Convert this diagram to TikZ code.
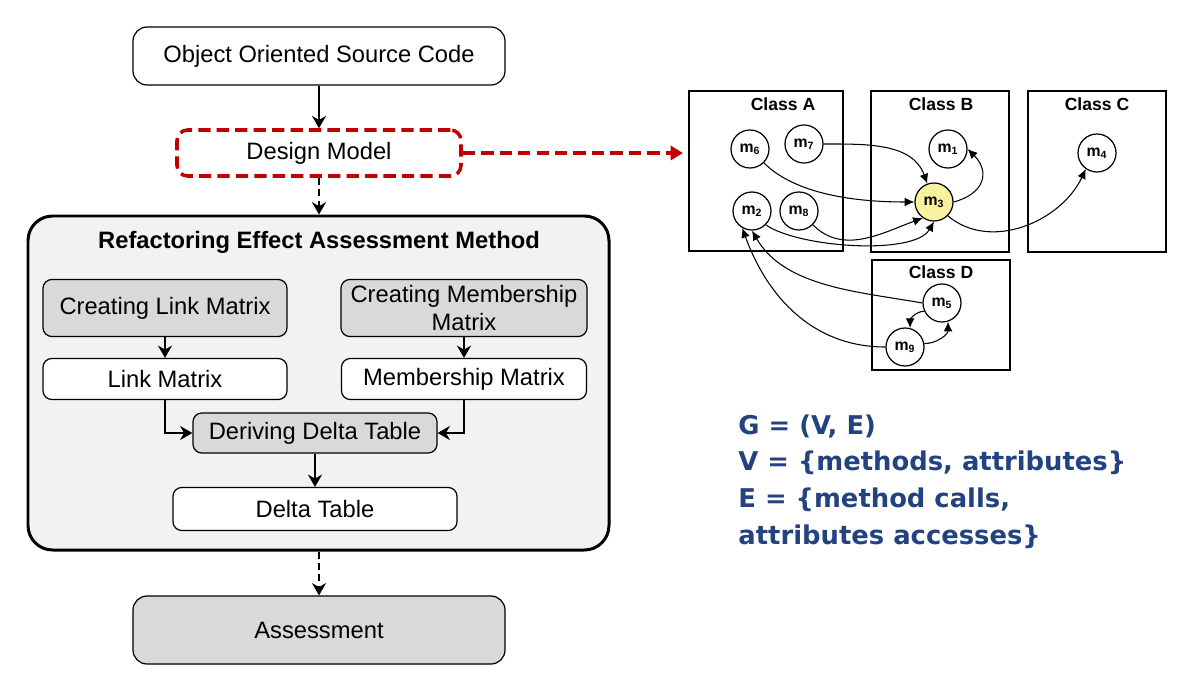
\documentclass[tikz,border=0pt]{standalone}
\usepackage{fontspec}
\setmainfont{Liberation Sans}
\newfontfamily\handfont{DejaVu Sans}
\usetikzlibrary{arrows.meta}
\usetikzlibrary{positioning}
\definecolor{boxgray}{RGB}{217,217,217}
\definecolor{panelgray}{RGB}{242,242,242}
\definecolor{modelred}{RGB}{192,0,0}
\definecolor{hotyellow}{RGB}{246,242,160}
\definecolor{graphblue}{RGB}{34,66,128}

\begin{document}
\begin{tikzpicture}[>={Stealth[length=7pt,width=8pt]},line width=1.6pt,
font=\fontsize{13.5}{16}\selectfont]
\tikzstyle{flow}=[draw,line width=0.7pt,rounded corners=5pt,inner sep=2pt,align=center]
\tikzstyle{proc}=[flow,fill=boxgray,minimum width=4.88cm,minimum height=1.14cm]
\tikzstyle{store}=[flow,fill=white,minimum height=0.82cm]
\tikzstyle{cls}=[draw,line width=0.9pt,minimum width=2.76cm,minimum height=3.22cm]
\tikzstyle{ctitle}=[font=\fontsize{10}{12}\selectfont\bfseries]
\tikzstyle{meth}=[circle,draw,line width=0.7pt,fill=white,minimum size=0.76cm,inner sep=0pt,font=\fontsize{9}{10}\selectfont\bfseries]
\tikzstyle{calledge}=[->,>={Latex[length=5.5pt,width=5pt]},line width=0.6pt]

\useasboundingbox (0,0) rectangle (23.9,-13.48);

% left column
\node[flow,minimum width=7.44cm,minimum height=1.16cm,rounded corners=8pt] (src) at (6.38,-1.12) {Object Oriented Source Code};
\node[flow,draw=modelred,line width=2pt,dash pattern=on 7pt off 3.5pt,minimum width=5.68cm,minimum height=0.92cm,rounded corners=6pt] (dm) at (6.38,-3.06) {Design Model};
\node[draw,line width=1.7pt,fill=panelgray,rounded corners=14pt,minimum width=11.62cm,minimum height=6.68cm] (rea) at (6.37,-7.66) {};
\node[font=\fontsize{13.5}{16}\selectfont\bfseries] (title) at (6.38,-4.84) {Refactoring Effect Assessment Method};
\node[proc] (clm) at (3.3,-6.16) {Creating Link Matrix};
\node[proc,minimum width=4.92cm] (cmm) at (9.28,-6.16) {Creating Membership\\Matrix};
\node[store,minimum width=4.88cm] (lm) at (3.3,-7.58) {Link Matrix};
\node[store,minimum width=4.9cm] (mm) at (9.28,-7.58) {Membership Matrix};
\node[proc,minimum height=0.8cm] (ddt) at (6.3,-8.66) {Deriving Delta Table};
\node[store,minimum width=5.68cm,minimum height=0.86cm] (dt) at (6.3,-10.18) {Delta Table};
\node[flow,fill=boxgray,minimum width=7.44cm,minimum height=1.36cm,rounded corners=8pt] (asm) at (6.38,-12.6) {Assessment};

\draw[->] (src) -- (dm);
\draw[->,line width=1.3pt,dash pattern=on 4pt off 2.5pt] (dm.south) -- (dm.south |- rea.north);
\draw[->] (clm) -- (lm);
\draw[->] (cmm) -- (mm);
\draw[->] (lm.south) |- (ddt.west);
\draw[->] (mm.south) |- (ddt.east);
\draw[->] (ddt) -- (dt);
\draw[->,line width=1.3pt,dash pattern=on 4pt off 2.5pt] (rea.south -| asm.north) -- (asm.north);

% class graph
\node[cls,minimum width=3.08cm,minimum height=3.2cm] (ca) at (15.32,-3.42) {};
\node[cls] (cb) at (18.8,-3.43) {};
\node[cls] (cc) at (21.94,-3.43) {};
\node[cls,minimum height=2.2cm] (cd) at (18.82,-6.3) {};
\node[ctitle] (ta) at (15.66,-2.08) {Class A};
\node[ctitle] (tb) at (18.82,-2.08) {Class B};
\node[ctitle] (tc) at (21.94,-2.08) {Class C};
\node[ctitle] (td) at (18.82,-5.44) {Class D};

\draw[->,draw=modelred,line width=2pt,dash pattern=on 7pt off 3.5pt,>={Triangle[length=7pt,width=8pt]},shorten >=3pt]
  (dm.east) -- (dm.east -| ca.west);

\node[meth] (m6) at (15.0,-2.98) {m\textsubscript{6}};
\node[meth] (m7) at (16.08,-2.88) {m\textsubscript{7}};
\node[meth] (m2) at (15.04,-4.22) {m\textsubscript{2}};
\node[meth] (m8) at (15.98,-4.22) {m\textsubscript{8}};
\node[meth] (m1) at (18.96,-2.98) {m\textsubscript{1}};
\node[meth,fill=hotyellow] (m3) at (18.68,-4.04) {m\textsubscript{3}};
\node[meth] (m4) at (21.94,-3.06) {m\textsubscript{4}};
\node[meth] (m5) at (18.84,-6.06) {m\textsubscript{5}};
\node[meth] (m9) at (18.1,-6.94) {m\textsubscript{9}};

\draw[calledge] (m7) to[out=0,in=110] (m3);
\draw[calledge] (m6) to[out=-45,in=180,looseness=0.8] (m3);
\draw[calledge] (m8.-45) to[out=-45,in=-160] (m3.-125);
\draw[calledge] (m2.-45) to[out=-35,in=-120,looseness=0.6] (m3.-90);
\draw[calledge] (m3.east) to[out=15,in=-45,looseness=1.5] (m1.east);
\draw[calledge] (m3.-45) to[out=-40,in=-115] (m4.-125);
\draw[calledge] (m5.west) to[out=170,in=-60,looseness=0.9] (m2.-90);
\draw[calledge] (m9.west) to[out=180,in=-70] (m2.-120);
\draw[calledge] (m5.205) to[out=180,in=90] (m9.75);
\draw[calledge] (m9.10) to[out=0,in=-90] (m5.-72);

% graph definition
\node[anchor=north west,align=left,inner sep=0pt,text=graphblue,
  font=\handfont\bfseries\fontsize{14.7}{21}\selectfont] (gdef) at (14.74,-8.26)
  {G = (V, E)\\V = \{methods, attributes\}\\E = \{method calls,\\attributes accesses\}};
\end{tikzpicture}
\end{document}
